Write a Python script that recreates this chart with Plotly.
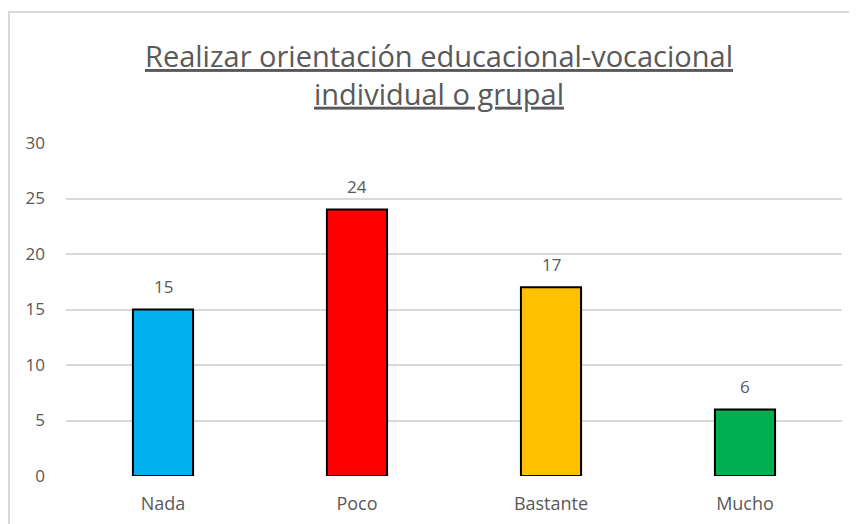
import plotly.graph_objects as go

# ── datos ──────────────────────────────────────────────
categorias = ["Nada", "Poco", "Bastante", "Mucho"]
valores = [15, 24, 17, 6]
colores = ["#00B0F0", "#FF0000", "#FFC000", "#00B050"]
y_ticks = [0, 5, 10, 15, 20, 25, 30]

TEXT_COLOR = "#595959"
GRID_COLOR = "#D9D9D9"
FONT = "Open Sans, sans-serif"

# la página añade 8px de margen al body: se compensa en los márgenes
L, R, T, B = 58, 23, 135, 56
PLOT_H = 524 - T - B

fig = go.Figure()
fig.add_trace(go.Bar(
    x=categorias,
    y=valores,
    marker=dict(color=colores, line=dict(color="#000000", width=2)),
    width=0.31,
    hoverinfo="x+y",
))

# etiquetas de datos sobre cada barra
for cat, val in zip(categorias, valores):
    fig.add_annotation(
        x=cat, y=val, text=str(val), showarrow=False,
        yanchor="middle", yshift=23,
        font=dict(size=17, color=TEXT_COLOR, family=FONT),
    )

fig.update_layout(
    width=857,
    height=524,
    paper_bgcolor="white",
    plot_bgcolor="white",
    showlegend=False,
    margin=dict(l=L, r=R, t=T, b=B),
    font=dict(family=FONT, color=TEXT_COLOR),
    title=dict(
        text="<u>Realizar orientación educacional-vocacional</u><br><u>individual o grupal</u>",
        font=dict(size=29, color=TEXT_COLOR, family=FONT),
        x=(439 - 8) / 857, xanchor="center",
        y=1 - 59 / 524, yanchor="middle",
    ),
    xaxis=dict(
        showgrid=False,
        showline=False,
        ticks="",
        tickfont=dict(size=18, color=TEXT_COLOR),
        ticklabelstandoff=15,
    ),
    yaxis=dict(
        range=[0, 30],
        tickvals=y_ticks,
        showgrid=True,
        gridcolor=GRID_COLOR,
        gridwidth=1.5,
        zeroline=False,
        showline=False,
        ticks="",
        tickfont=dict(size=17, color=TEXT_COLOR),
        ticklabelstandoff=20,
    ),
    shapes=[dict(
        type="rect", xref="paper", yref="paper",
        x0=(1 - L) / 776, x1=1.1, y0=-0.3, y1=(524 - B - 4) / PLOT_H,
        line=dict(color=GRID_COLOR, width=2),
        fillcolor="rgba(0,0,0,0)",
        layer="below",
    )],
)

fig.write_html("out.html")
